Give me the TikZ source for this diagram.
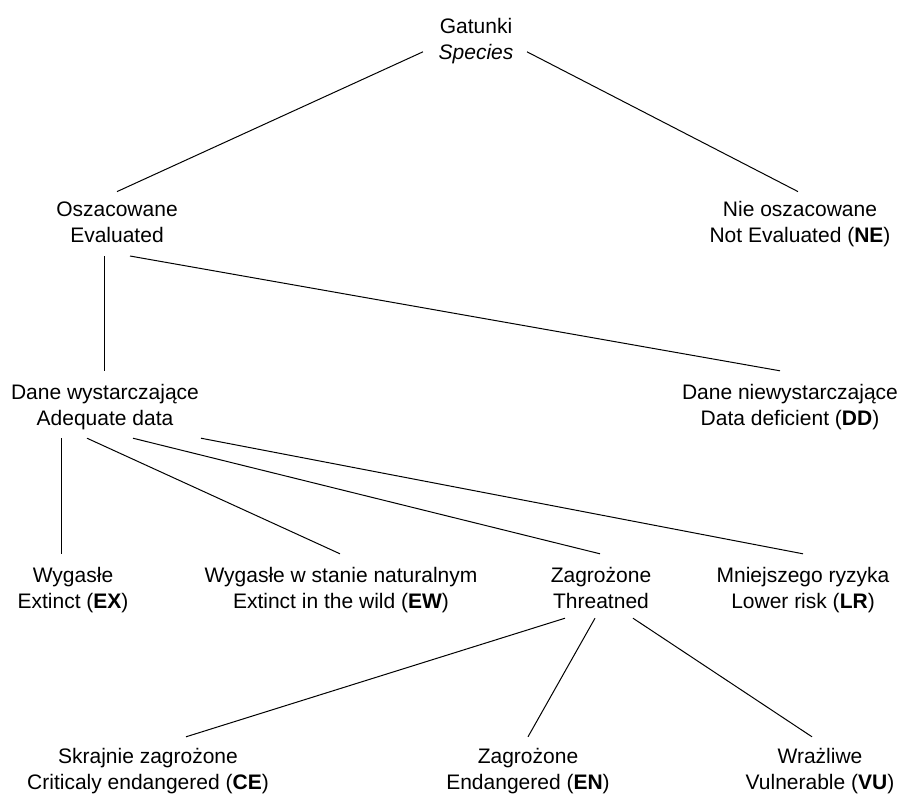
\documentclass[tikz,border=0pt]{standalone}
\usepackage{fontspec}
\setmainfont{Liberation Sans}
\usetikzlibrary{calc}
\begin{document}
\begin{tikzpicture}[x=1pt,y=-1pt,
  label/.style={align=center,inner sep=0pt,font={\fontsize{21}{26}\selectfont}},
  branch/.style={line width=1pt}]
\useasboundingbox (0,0) rectangle (905,796);

% tree levels
\node[label] (sp) at (476,40.8) {\strut Gatunki\\\strut\textit{Species}};

\node[label] (ev) at (117,223.8) {\strut Oszacowane\\\strut Evaluated};
\node[label] (ne) at (800,223.8) {\strut Nie oszacowane\\\strut Not Evaluated (\textbf{NE})};

\node[label] (ad) at (105,407) {\strut Dane wystarczające\\\strut Adequate data};
\node[label] (dd) at (790,407) {\strut Dane niewystarczające\\\strut Data deficient (\textbf{DD})};

\node[label] (ex) at (73,590) {\strut Wygasłe\\\strut Extinct (\textbf{EX})};
\node[label] (ew) at (341,590) {\strut Wygasłe w stanie naturalnym\\\strut Extinct in the wild (\textbf{EW})};
\node[label] (th) at (601,590) {\strut Zagrożone\\\strut Threatned};
\node[label] (lr) at (803,590) {\strut Mniejszego ryzyka\\\strut Lower risk (\textbf{LR})};

\node[label] (ce) at (148,771) {\strut Skrajnie zagrożone\\\strut Criticaly endangered (\textbf{CE})};
\node[label] (en) at (528,771) {\strut Zagrożone\\\strut Endangered (\textbf{EN})};
\node[label] (vu) at (820,771) {\strut Wrażliwe\\\strut Vulnerable (\textbf{VU})};

% connectors
\draw[branch] ($(sp)+(-53,11)$) -- ($(ev.north)+(0,-6)$);
\draw[branch] ($(sp)+(51,11)$) -- ($(ne.north)+(-2,-6)$);

\draw[branch] ($(ev.south)+(-13,6)$) -- ($(ad.north)+(-1,-10)$);
\draw[branch] ($(ev.south)+(13,6)$) -- ($(dd.north)+(-10,-10)$);

\draw[branch] ($(ad.south)+(-44,5)$) -- ($(ex.north)+(-12,-10)$);
\draw[branch] ($(ad.south)+(-18,5)$) -- ($(ew.north)+(-1,-10)$);
\draw[branch] ($(ad.south)+(28,5)$) -- ($(th.north)+(-1,-10)$);
\draw[branch] ($(ad.south)+(96,5)$) -- ($(lr.north)+(0,-10)$);

\draw[branch] ($(th.south)+(-36,2)$) -- ($(ce.north)+(38,-8)$);
\draw[branch] ($(th.south)+(-6,2)$) -- ($(en.north)+(0,-8)$);
\draw[branch] ($(th.south)+(32,2)$) -- ($(vu.north)+(-8,-8)$);
\end{tikzpicture}
\end{document}
